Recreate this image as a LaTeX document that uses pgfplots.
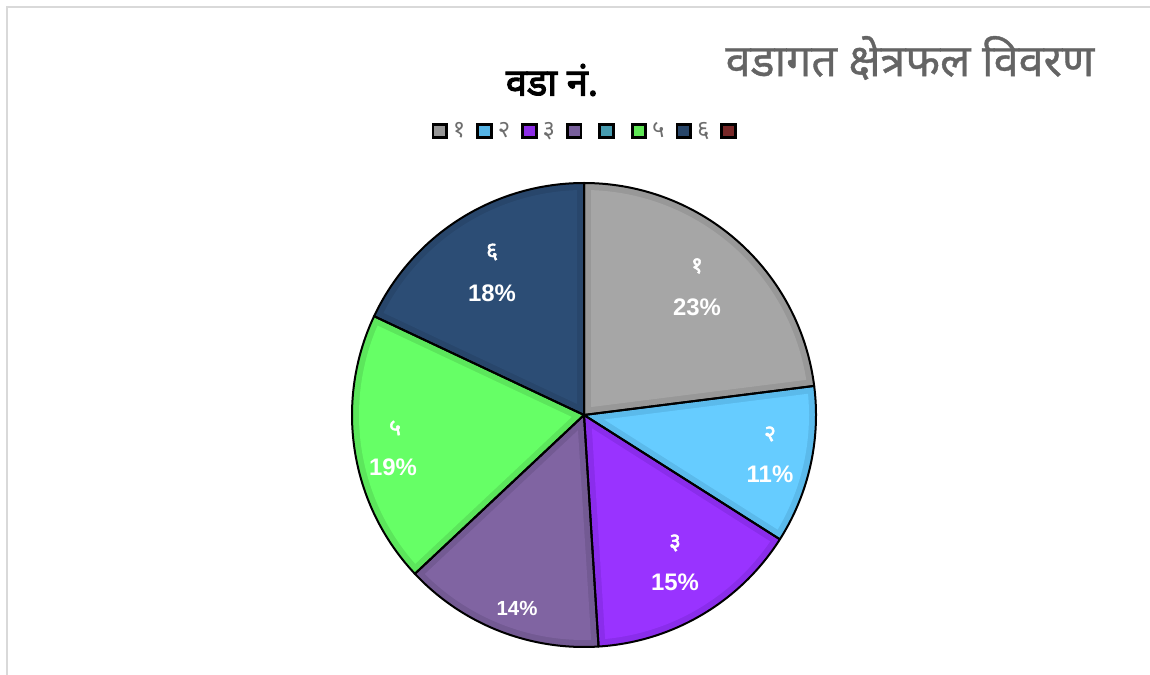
\documentclass[border=0pt]{standalone}
\usepackage{pgfplots}
\pgfplotsset{compat=1.18}
\usepackage{fontspec}
\newfontfamily\deva[Script=Devanagari]{Noto Sans}
\newfontfamily\devam[Script=Devanagari, FakeBold=0.8]{Noto Sans}
\newfontfamily\devab[Script=Devanagari, FakeBold=2.2]{Noto Sans}
\newfontfamily\devabb[Script=Devanagari, FakeBold=3]{Noto Sans}
\newfontfamily\lib{Liberation Sans}
\definecolor{f1}{HTML}{A6A6A6}\definecolor{e1}{HTML}{989898}
\definecolor{f2}{HTML}{66CCFF}\definecolor{e2}{HTML}{5BBAEB}
\definecolor{f3}{HTML}{9933FF}\definecolor{e3}{HTML}{8A2DEB}
\definecolor{f4}{HTML}{8064A2}\definecolor{e4}{HTML}{735A93}
\definecolor{f6}{HTML}{66FF66}\definecolor{e6}{HTML}{5CE65C}
\definecolor{f7}{HTML}{2C4D75}\definecolor{e7}{HTML}{28466B}
\definecolor{L1}{RGB}{150,150,150}
\definecolor{L2}{RGB}{85,180,230}
\definecolor{L3}{RGB}{140,45,230}
\definecolor{L4}{RGB}{120,95,155}
\definecolor{L5}{RGB}{70,155,175}
\definecolor{L6}{RGB}{95,230,85}
\definecolor{L7}{RGB}{40,70,105}
\definecolor{L8}{RGB}{120,40,40}
\definecolor{hd}{RGB}{100,100,100}
\definecolor{lg}{RGB}{110,110,110}
\definecolor{bd}{RGB}{217,217,217}
% #1 = cumulative percent before slice, #2 = slice percent, #3 = fill, #4 = bevel
\newcommand\slicefill[4]{%
 \pgfmathsetmacro\aA{90-3.6*#1}%
 \pgfmathsetmacro\aB{90-3.6*(#1+#2)}%
 \pgfmathsetmacro\aM{(\aA+\aB)/2}%
 \pgfmathsetmacro\off{7/sin(1.8*#2)}%
 \pgfmathsetmacro\del{asin(7/225)}%
 \pgfmathsetmacro\iA{\aA-\del}%
 \pgfmathsetmacro\iB{\aB+\del}%
 \pgfmathsetmacro\px{584+\off*cos(\aM)}%
 \pgfmathsetmacro\py{-415+\off*sin(\aM)}%
 \edef\doit{%
  \noexpand\addplot[fill=#4, draw=none, domain=\aB:\aA, samples=100, forget plot] ({584+232*cos(x)},{-415+232*sin(x)}) -- (axis cs:584,-415) -- cycle;
  \noexpand\addplot[fill=#3, draw=none, domain=\iB:\iA, samples=100, forget plot] ({584+225*cos(x)},{-415+225*sin(x)}) -- (axis cs:\px,\py) -- cycle;
 }\doit}
\newcommand\sliceline[2]{%
 \pgfmathsetmacro\aA{90-3.6*#1}%
 \pgfmathsetmacro\aB{90-3.6*(#1+#2)}%
 \edef\doit{%
  \noexpand\addplot[draw=black, line width=2bp, line join=round, fill=none, domain=\aB:\aA, samples=100, forget plot] ({584+232*cos(x)},{-415+232*sin(x)}) -- (axis cs:584,-415) -- cycle;
 }\doit}
\newcommand\lgt[1]{\hspace*{-6bp}#1\hspace*{6bp}}
\begin{document}
\begin{tikzpicture}
\useasboundingbox (0,0) rectangle (1150bp,675bp);
\begin{axis}[
  at={(0,0)}, anchor=south west,
  width=1150bp, height=675bp, scale only axis,
  xmin=0, xmax=1150, ymin=-675, ymax=0,
  axis lines=none, clip=false,
  legend image code/.code={\draw[#1, draw=black, line width=2.8bp] (0bp,-6.8bp) rectangle (13.6bp,6.8bp);},
  legend style={at={(0.5130,0.806)}, anchor=center, draw=none, fill=none,
    legend columns=8, font=\deva\fontsize{24}{26}\selectfont, text=lg,
    /tikz/every even column/.append style={column sep=4.5bp},
    /tikz/every odd column/.append style={column sep=10.5bp},
    nodes={inner sep=0.5bp}},
]
% slices: values 23, 11, 15, 14, 0, 19, 18, 0 (percent)
\slicefill{0}{23}{f1}{e1}
\slicefill{23}{11}{f2}{e2}
\slicefill{34}{15}{f3}{e3}
\slicefill{49}{14}{f4}{e4}
\slicefill{63}{19}{f6}{e6}
\slicefill{82}{18}{f7}{e7}
\sliceline{0}{23}
\sliceline{23}{11}
\sliceline{34}{15}
\sliceline{49}{14}
\sliceline{63}{19}
\sliceline{82}{18}
\addlegendimage{fill=L1}\addlegendentry{\lgt{१}}
\addlegendimage{fill=L2}\addlegendentry{\lgt{२}}
\addlegendimage{fill=L3}\addlegendentry{\lgt{३}}
\addlegendimage{fill=L4}\addlegendentry{}
\addlegendimage{fill=L5}\addlegendentry{}
\addlegendimage{fill=L6}\addlegendentry{\lgt{५}}
\addlegendimage{fill=L7}\addlegendentry{\lgt{६}}
\addlegendimage{fill=L8}\addlegendentry{}
% labels
\tikzset{num/.style={text=white, font=\devab\fontsize{23}{26}\selectfont},
         pct/.style={text=white, font=\lib\bfseries\fontsize{24}{28}\selectfont}}
\node[num] at (axis cs:697,-266) {१};
\node[pct] at (axis cs:697,-307) {23\%};
\node[num] at (axis cs:770,-434) {२};
\node[pct] at (axis cs:770,-474) {11\%};
\node[num] at (axis cs:675,-543) {३};
\node[pct] at (axis cs:675,-582) {15\%};
\node[pct, font=\lib\bfseries\fontsize{20.5}{24}\selectfont] at (axis cs:517,-608) {14\%};
\node[num] at (axis cs:395,-428) {५};
\node[pct] at (axis cs:393,-467) {19\%};
\node[num] at (axis cs:492,-252) {६};
\node[pct] at (axis cs:492,-293) {18\%};
% titles
\node[font=\devabb\fontsize{38}{42}\selectfont] at (axis cs:552,-80) {वडा नं.};
\node[text=hd, font=\devam\fontsize{45}{50}\selectfont] at (axis cs:910,-58) {वडागत क्षेत्रफल विवरण};
% frame
\draw[bd, line width=2bp] (axis cs:7,-675) -- (axis cs:7,-7) -- (axis cs:1150,-7);
\end{axis}
\end{tikzpicture}
\end{document}
